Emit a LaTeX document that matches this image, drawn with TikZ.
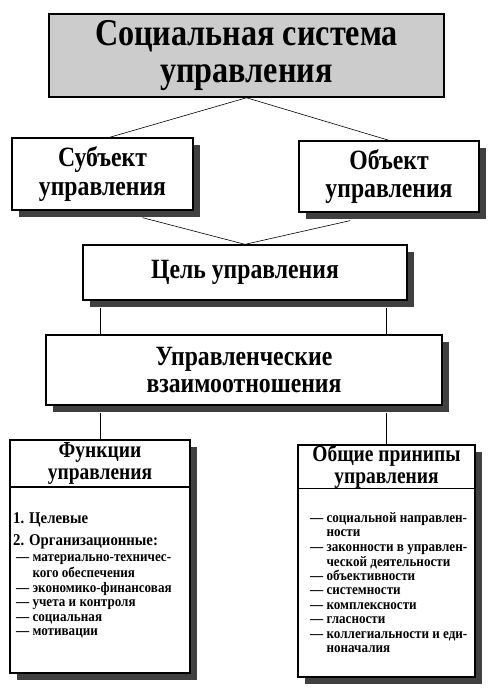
\documentclass[tikz,border=0pt]{standalone}
\usepackage{fontspec}
\setmainfont{Liberation Serif}
\newfontfamily\narrowfont[FakeStretch=0.85]{Liberation Serif}
\newfontfamily\listfont[FakeStretch=0.9]{Liberation Serif}
\usetikzlibrary{positioning,shadows,calc}
\tikzset{
	box/.style={draw, line width=1.3bp, fill=white, inner sep=0pt, align=center,
		drop shadow={shadow xshift=7bp, shadow yshift=-7bp, fill=black!75, opacity=1}},
	titlebox/.style={draw, line width=1.5bp, fill=gray!40, inner sep=0pt, align=center},
	headbox/.style={draw, line width=1.3bp, fill=white, inner sep=0pt, align=center},
	link/.style={line width=0.6bp},
	bigitem/.style={anchor=base west, inner sep=0pt, font=\listfont\bfseries\fontsize{16.5}{18}\selectfont},
	smallitem/.style={anchor=base west, inner sep=0pt, font=\listfont\bfseries\fontsize{14.6}{15}\selectfont}
}
\begin{document}
\begin{tikzpicture}[x=1bp, y=-1bp]
	\useasboundingbox (0,0) rectangle (495,696);
	\node[titlebox, minimum width=395bp, minimum height=83bp,
		font=\narrowfont\bfseries\fontsize{38}{37}\selectfont] (sys) at (246.5,55.5) {Социальная система\\управления};
	\node[box, minimum width=181bp, minimum height=72bp,
		font=\narrowfont\bfseries\fontsize{28}{29}\selectfont] (subj) at (102.5,174) {Субъект\\управления};
	\node[box, minimum width=180bp, minimum height=71bp,
		font=\narrowfont\bfseries\fontsize{28}{29}\selectfont] (obj) at (389,176.5) {Объект\\управления};
	\node[box, minimum width=324bp, minimum height=55bp,
		font=\narrowfont\bfseries\fontsize{28}{27}\selectfont] (goal) at (245,272.5) {Цель управления};
	\node[box, minimum width=396bp, minimum height=70bp,
		font=\narrowfont\bfseries\fontsize{28}{27}\selectfont] (rel) at (244,370) {Управленческие\\взаимоотношения};
	% lower boxes
	\node[box, minimum width=180bp, minimum height=233bp] (func) at (100,556.5) {};
	\node[headbox, anchor=north, minimum width=180bp, minimum height=47bp,
		font=\narrowfont\bfseries\fontsize{23}{22}\selectfont] (funchead) at (func.north) {Функции\\управления};
	\node[box, minimum width=177bp, minimum height=232bp] (princ) at (386.5,561) {};
	\node[headbox, anchor=north, minimum width=177bp, minimum height=43bp,
		font=\narrowfont\bfseries\fontsize{23}{22}\selectfont] (princhead) at (princ.north) {Общие принипы\\управления};
	% connectors
	\draw[link] (sys.south) -- ($(subj.north)+(7,0)$);
	\draw[link] (sys.south) -- (obj.north);
	\draw[link] ($(subj.south)+(40,7)$) -- (goal.north);
	\draw[link] ($(obj.south)+(-39,8)$) -- (goal.north);
	\draw[link] ($(goal.south -| func.north)+(0,7)$) -- (rel.north -| func.north);
	\draw[link] ($(goal.south -| princ.north)+(0,7)$) -- (rel.north -| princ.north);
	\draw[link] ($(rel.south -| func.north)+(0,7)$) -- (func.north);
	\draw[link] ($(rel.south -| princ.north)+(0,7)$) -- (princ.north);
	% functions list
	\node[bigitem] (f1) at (13,523) {1. Целевые};
	\node[bigitem] (f2) at (13,545) {2. Организационные:};
	\foreach \k/\y/\t in {1/561/{— материально-техничес-},2/577/{\phantom{— }кого обеспечения},
		3/592/{— экономико-финансовая},4/606/{— учета и контроля},5/621/{— социальная},6/635/{— мотивации}}{
		\node[smallitem] (fs\k) at (16,\y) {\t};
	}
	% principles list
	\foreach \k/\y/\t in {1/522/{— социальной направлен-},2/536/{\phantom{— }ности},
		3/551/{— законности в управлен-},4/566/{\phantom{— }ческой деятельности},
		5/580/{— объективности},6/594/{— системности},7/609/{— комплексности},
		8/623/{— гласности},9/638/{— коллегиальности и еди-},10/652/{\phantom{— }ноначалия}}{
		\node[smallitem] (ps\k) at (310,\y) {\t};
	}
\end{tikzpicture}
\end{document}
